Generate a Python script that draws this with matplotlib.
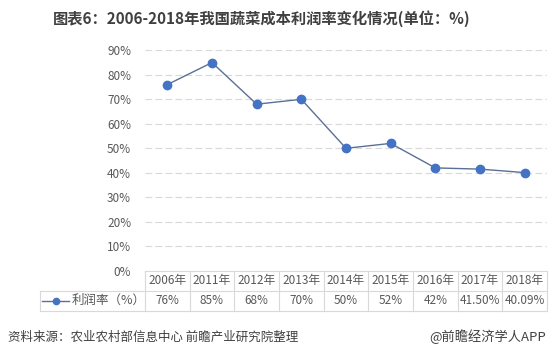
import matplotlib.pyplot as plt
from matplotlib.lines import Line2D

plt.rcParams['font.family'] = ['Noto Sans CJK SC', 'DejaVu Sans']

# 数据
years = ['2006年', '2011年', '2012年', '2013年', '2014年', '2015年', '2016年', '2017年', '2018年']
rate = [76, 85, 68, 70, 50, 52, 42, 41.5, 40.09]
rate_labels = ['76%', '85%', '68%', '70%', '50%', '52%', '42%', '41.50%', '40.09%']
series_name = '利润率（%）'
yticks = [0, 10, 20, 30, 40, 50, 60, 70, 80, 90]

W, H = 551, 356
fig = plt.figure(figsize=(W / 100, H / 100), dpi=100)
ax = fig.add_axes([145 / W, 1 - 270.8 / H, (547 - 145) / W, (270.8 - 50.3) / H])

text_c = '#595959'
grid_c = '#d9d9d9'

x = list(range(len(years)))
ax.plot(x, rate, color='#5b7094', lw=1, zorder=3)
ax.plot(x, rate, ls='none', marker='o', ms=6, color='#4472c4', zorder=4)

ax.set_xlim(-0.5, len(years) - 0.5)
ax.set_ylim(0, 90)
ax.set_yticks(yticks)
ax.set_yticklabels([f'{v}%' for v in yticks], color=text_c, fontsize=8.5)
ax.tick_params(axis='y', length=0, pad=10)
ax.set_xticks([])
for s in ax.spines.values():
    s.set_visible(False)
for v in yticks[1:]:
    ax.axhline(v, color=grid_c, lw=0.8, ls=(0, (6, 3)), zorder=1)

# 数据表
trans = ax.get_xaxis_transform()
ax_h = (270.8 - 50.3)
r1 = -(290.8 - 270.8) / ax_h
r2 = -(310.5 - 270.8) / ax_h
left = -0.5 - (145 - 40) / ((547 - 145) / len(years))
right = len(years) - 0.5
kw = dict(transform=trans, color=grid_c, lw=0.8, clip_on=False)
ax.add_line(Line2D([-0.5, right], [0, 0], **kw))
ax.add_line(Line2D([left, right], [r1, r1], **kw))
ax.add_line(Line2D([left, right], [r2, r2], **kw))
ax.add_line(Line2D([left, left], [r1, r2], **kw))
for i in range(len(years) + 1):
    ax.add_line(Line2D([i - 0.5, i - 0.5], [0, r2], **kw))
for i, (yr, lab) in enumerate(zip(years, rate_labels)):
    ax.text(i, r1 / 2, yr, transform=trans, ha='center', va='center',
            fontsize=8.5, color=text_c)
    ax.text(i, (r1 + r2) / 2, lab, transform=trans, ha='center', va='center',
            fontsize=8.5, color=text_c)

# 图例
ym = (r1 + r2) / 2
ax.add_line(Line2D([left + 0.05, left + 0.65], [ym, ym], transform=trans,
                   color='#5b7094', lw=1, clip_on=False))
ax.add_line(Line2D([left + 0.35], [ym], transform=trans, marker='o', ms=4.5,
                   color='#4472c4', clip_on=False))
ax.text(left + 0.7, ym, series_name, transform=trans, ha='left', va='center',
        fontsize=9, color=text_c)

fig.text(262 / W, 1 - 19 / H, '图表6：2006-2018年我国蔬菜成本利润率变化情况(单位：%)',
         ha='center', va='center', fontsize=11, fontweight='bold', color='#404040')
fig.text(8 / W, 1 - 337 / H, '资料来源：农业农村部信息中心 前瞻产业研究院整理',
         ha='left', va='center', fontsize=9, color='#404040')
fig.text(546 / W, 1 - 337 / H, '@前瞻经济学人APP',
         ha='right', va='center', fontsize=9.5, color='#404040')

fig.savefig('out.png', dpi=100)
